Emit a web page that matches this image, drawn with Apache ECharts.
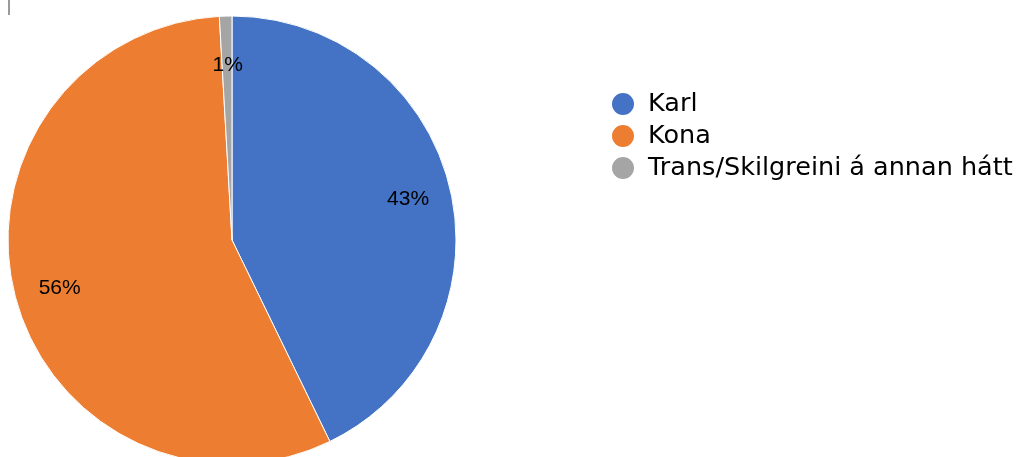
<!DOCTYPE html>
<html>
<head>
<meta charset="utf-8">
<script src="https://cdn.jsdelivr.net/npm/echarts@6/dist/echarts.min.js"></script>
<style>
  html, body { margin: 0; padding: 0; background: #fff; }
  #chart { width: 1024px; height: 457px; }
</style>
</head>
<body>
<div id="chart"></div>
<script>
var categories = ['Karl', 'Kona', 'Trans/Skilgreini á annan hátt'];
var values = [42.8, 56.3, 0.9];
var colors = ['#4472C4', '#ED7D31', '#A5A5A5'];
// nudge the labels to where the original puts them
var labelShift = [[64, -15], [-61, 19], [-1, -60]];

var myChart = echarts.init(document.getElementById('chart'));
myChart.setOption({
    backgroundColor: '#fff',
    animation: false,
    legend: {
        orient: 'vertical',
        left: 605,
        top: 86,
        icon: 'circle',
        itemWidth: 24,
        itemHeight: 24,
        itemGap: 6,
        data: categories,
        textStyle: {
            fontFamily: 'DejaVu Sans',
            fontSize: 25.5,
            lineHeight: 24,
            color: '#000',
            padding: [0, 0, 0, 8]
        }
    },
    graphic: [{
        type: 'rect',
        shape: { x: 8, y: 0, width: 2, height: 15 },
        style: { fill: '#9a9a9a' }
    }],
    series: [{
        type: 'pie',
        center: [232, 240],
        radius: 224,
        startAngle: 90,
        clockwise: true,
        itemStyle: { borderColor: '#fff', borderWidth: 1 },
        label: {
            show: true,
            position: 'inside',
            fontFamily: 'Liberation Sans',
            fontSize: 21,
            color: '#000',
            formatter: function (p) {
                return Math.round(p.percent) + '%';
            }
        },
        labelLayout: function (p) {
            var s = labelShift[p.dataIndex];
            return { dx: s[0], dy: s[1] };
        },
        emphasis: { disabled: true },
        data: categories.map(function (c, i) {
            return { name: c, value: values[i], itemStyle: { color: colors[i] } };
        })
    }]
});
</script>
</body>
</html>
